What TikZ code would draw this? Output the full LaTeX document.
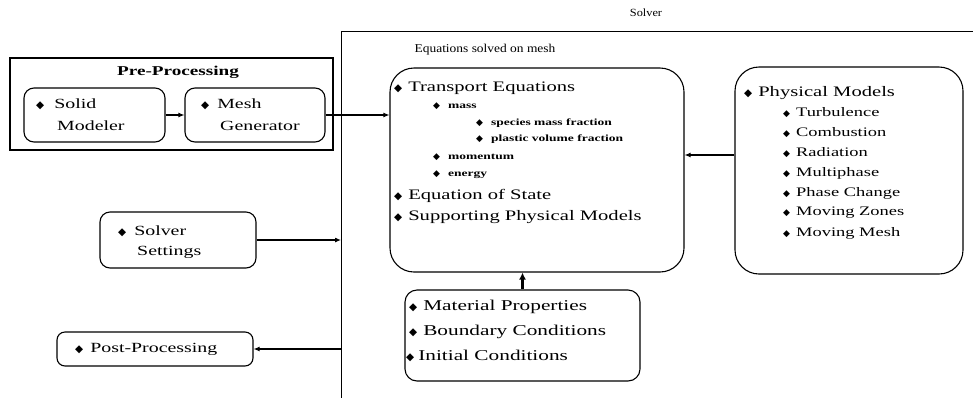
\documentclass[tikz,border=0pt]{standalone}
\usepackage{fontspec}
\usepackage{graphicx}
\setmainfont{Liberation Serif}[FakeStretch=1.42]
\newfontfamily\lblfont{Liberation Serif}[FakeStretch=1.12]
\newfontfamily\bulfont{DejaVu Sans}
\usetikzlibrary{arrows.meta}
\newcommand{\bul}{{\bulfont\fontsize{10.5}{10.5}\selectfont ◆}}
\newcommand{\sbul}{{\bulfont\fontsize{9}{9}\selectfont ◆}}
\newcommand{\fs}[1]{\fontsize{#1}{#1}\selectfont}
\tikzset{
  box/.style={draw=black, line width=1.1pt, fill=white},
  txt/.style={anchor=west, inner sep=0pt},
  big/.style={txt, font=\fs{14.5}},
  med/.style={txt, font=\fs{14}},
  mid/.style={txt, font=\fs{13}},
  sml/.style={txt, font=\fs{9.5}\bfseries},
  arr/.style={line width=1.1pt, -{Latex[length=6pt,width=5pt]}},
}
\begin{document}
\begin{tikzpicture}[x=1pt,y=-1pt]
\useasboundingbox (0,0) rectangle (973,397);
\clip (0,0) rectangle (973,397);
\fill[white] (0,0) rectangle (973,397);

% Solver frame
\node[draw=black, line width=1.3pt, inner sep=0pt, minimum width=700pt, minimum height=420pt, anchor=north west] (solver) at (341,31) {};
\node[font=\lblfont\fs{11}] (solverlbl) at (646,13) {Solver};
\node[font=\lblfont\fs{12}] (eqlbl) at (485,50) {Equations solved on mesh};

% Equations box
\node[box, rounded corners=24pt, inner sep=0pt, minimum width=294pt, minimum height=204pt] (eq) at (537,170) {};
\node[big] (e1) at (394,88) {\bul\hspace{6pt}Transport Equations};
\node[sml] (e2) at (433,106) {\sbul\hspace{8pt}mass};
\node[sml] (e3) at (476,123) {\sbul\hspace{8pt}species mass fraction};
\node[sml] (e4) at (476,139) {\sbul\hspace{8pt}plastic volume fraction};
\node[sml] (e5) at (433,157) {\sbul\hspace{8pt}momentum};
\node[sml] (e6) at (433,175) {\sbul\hspace{8pt}energy};
\node[big] (e7) at (394,196) {\bul\hspace{6pt}Equation of State};
\node[big] (e8) at (394,217) {\bul\hspace{6pt}Supporting Physical Models};

% Physical models box
\node[box, rounded corners=24pt, inner sep=0pt, minimum width=228pt, minimum height=207pt] (pm) at (849,170.5) {};
\node[big] (p0) at (744,93) {\bul\hspace{6pt}Physical Models};
\node[mid] (p1) at (783,113) {\sbul\hspace{6pt}Turbulence};
\node[mid] (p2) at (783,133) {\sbul\hspace{6pt}Combustion};
\node[mid] (p3) at (783,153) {\sbul\hspace{6pt}Radiation};
\node[mid] (p4) at (783,173) {\sbul\hspace{6pt}Multiphase};
\node[mid] (p5) at (783,193) {\sbul\hspace{6pt}Phase Change};
\node[mid] (p6) at (783,213) {\sbul\hspace{6pt}Moving Zones};
\node[mid] (p7) at (783,233) {\sbul\hspace{6pt}Moving Mesh};

% Material box
\node[box, rounded corners=12pt, inner sep=0pt, minimum width=235pt, minimum height=91pt] (mat) at (522.5,335.5) {};
\node[med, font=\fs{15}] (m1) at (409,307) {\bul\hspace{6pt}Material Properties};
\node[med, font=\fs{15}] (m2) at (409,332) {\bul\hspace{6pt}Boundary Conditions};
\node[med, font=\fs{15}] (m3) at (406,356) {\bul\hspace{4pt}Initial Conditions};

% Pre-processing
\node[draw=black, line width=2.2pt, inner sep=0pt, minimum width=323pt, minimum height=92pt] (pre) at (171.5,104) {};
\node[font=\fs{13.5}\bfseries] (prelbl) at (178,72) {Pre-Processing};
\node[box, rounded corners=10pt, inner sep=0pt, minimum width=141pt, minimum height=54pt] (solid) at (94.5,115) {};
\node[med] (s0) at (36,104) {\bul\hspace{10pt}Solid};
\node[med] (s1) at (57,126) {Modeler};
\node[box, rounded corners=10pt, inner sep=0pt, minimum width=140pt, minimum height=54pt] (mesh) at (255,115) {};
\node[med] (g0) at (201,104) {\bul\hspace{8pt}Mesh};
\node[med] (g1) at (220,126) {Generator};

% Solver settings
\node[box, rounded corners=10pt, inner sep=0pt, minimum width=156pt, minimum height=56pt] (ss) at (178,240) {};
\node[med] (ss0) at (118,231) {\bul\hspace{8pt}Solver};
\node[med] (ss1) at (137,252) {Settings};

% Post-processing
\node[box, rounded corners=8pt, inner sep=0pt, minimum width=196pt, minimum height=34pt] (post) at (155,349) {};
\node[med] (pp) at (75,349) {\bul\hspace{7pt}Post-Processing};

% Connectors
\draw[arr] (solid.east) -- (mesh.west);
\draw[arr] (mesh.east) -- (mesh.east -| eq.west);
\draw[arr] (pm.west |- 0,155) -- (eq.east |- 0,155);
\draw[line width=3pt, -{Latex[length=7pt,width=7pt]}] (mat.north) -- (mat.north |- eq.south);
\draw[arr] (ss.east) -- (ss.east -| solver.west);
\draw[arr] (post.east -| solver.west) -- (post.east);
\end{tikzpicture}
\end{document}
